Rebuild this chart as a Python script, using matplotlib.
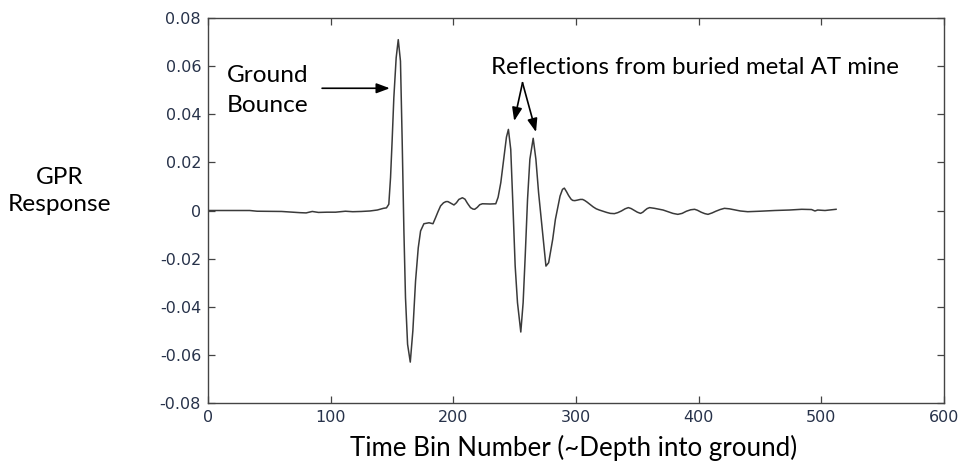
import matplotlib
matplotlib.use("Agg")
import matplotlib.pyplot as plt

# ---- data, split into segments ----
# quiet lead-in before the ground bounce
bins_pre = [0, 20, 34, 40, 60, 75, 80, 85, 90, 97, 104, 112, 118, 125, 132, 138, 143, 145.5]
resp_pre = [0.0, 0.0, 0.0, -0.0003, -0.0004, -0.0009, -0.001, -0.0004, -0.0008, -0.0007,
            -0.0007, -0.0003, -0.0005, -0.0004, -0.0002, 0.0002, 0.0009, 0.0011]
# ground bounce
bins_gb = [147.4, 148.8, 150.1, 151.5, 153.4, 155.1, 156.9, 158.3, 159.7, 161.0, 162.7, 164.9,
           167.0, 169.2, 171.4, 173.3, 176.0, 180.2, 183.4]
resp_gb = [0.0026, 0.0136, 0.0289, 0.0469, 0.0635, 0.0710, 0.0621, 0.0289, -0.0085, -0.0362,
           -0.0556, -0.0630, -0.0500, -0.0293, -0.0155, -0.0085, -0.0055, -0.0051, -0.0055]
# ripples between bounce and mine
bins_mid = [185.5, 187.5, 189.6, 192, 194, 195.6, 198, 200.5, 202.5, 204.5, 207.4, 209.5, 211.5,
            214, 216, 217.4, 219.5, 221.5, 223.7, 230, 234.6]
resp_mid = [-0.0030, -0.0005, 0.0019, 0.0032, 0.0037, 0.0037, 0.0030, 0.0023, 0.0032, 0.0046,
            0.0053, 0.0047, 0.0030, 0.0012, 0.0006, 0.0005, 0.0013, 0.0024, 0.0028, 0.0027,
            0.0028]
# mine reflections
bins_mine = [236.5, 238.7, 241.4, 243.3, 244.9, 246.8, 248.7, 250.4, 252.3, 255.0, 256.9, 258.6,
             260.5, 262.4, 265.1, 267.3, 269.5, 272.2, 275.5, 277.7, 281.0, 283.2, 287]
resp_mine = [0.0055, 0.0116, 0.0227, 0.0305, 0.0337, 0.0254, 0.0005, -0.0230, -0.0383, -0.0505,
             -0.0383, -0.0189, 0.0047, 0.0213, 0.0300, 0.0213, 0.0074, -0.0064, -0.0231, -0.0217,
             -0.0120, -0.0037, 0.0060]
# tail
bins_tail = [289, 290.5, 292.3, 294, 296, 297.3, 299, 301, 303.5, 305.4, 307, 309, 311.5, 314,
             316.5, 319, 322, 325, 328, 331.3, 334, 337, 340, 342.7, 345, 347, 350, 352.6, 354.5,
             356, 358, 360, 364, 368, 371, 375, 379, 383, 386.5, 390, 393.5, 396.7, 399, 402, 405,
             407.6, 411, 414, 417.5, 421, 425, 428, 434, 440, 450, 462, 474, 484, 492, 494.8, 497,
             503, 512]
resp_tail = [0.0088, 0.0093, 0.0078, 0.0062, 0.0047, 0.0042, 0.0041, 0.0043, 0.0046, 0.0046,
             0.0042, 0.0035, 0.0025, 0.0015, 0.0007, 0.0002, -0.0003, -0.0008, -0.0012, -0.0013,
             -0.0009, -0.0002, 0.0007, 0.0012, 0.0008, 0.0002, -0.0007, -0.0012, -0.0007, 0.0,
             0.0008, 0.0012, 0.0009, 0.0005, 0.0002, -0.0005, -0.0012, -0.0016, -0.0012, -0.0003,
             0.0003, 0.0005, 0.0001, -0.0007, -0.0013, -0.0016, -0.0010, -0.0003, 0.0004, 0.0009,
             0.0007, 0.0004, -0.0002, -0.0005, -0.0003, 0.0, 0.0002, 0.0005, 0.0004, -0.0002,
             0.0002, 0.0, 0.0005]

time_bin = bins_pre + bins_gb + bins_mid + bins_mine + bins_tail
response = resp_pre + resp_gb + resp_mid + resp_mine + resp_tail

x_ticks = [0, 100, 200, 300, 400, 500, 600]
y_ticks = [-0.08, -0.06, -0.04, -0.02, 0, 0.02, 0.04, 0.06, 0.08]
y_tick_labels = ["-0.08", "-0.06", "-0.04", "-0.02", "0", "0.02", "0.04", "0.06", "0.08"]
x_tick_labels = ["0", "100", "200", "300", "400", "500", "600"]

x_label = "Time Bin Number (~Depth into ground)"
y_label = "GPR\nResponse"
note_ground = ["Ground", "Bounce"]
note_reflect = "Reflections from buried metal AT mine"

# ---- figure ----
W, H = 964, 466
fig = plt.figure(figsize=(W / 100, H / 100), dpi=100)
ax = fig.add_axes([208 / W, 1 - 403 / H, (944 - 208) / W, (403 - 18) / H])

ax.plot(time_bin, response, color="#3a3a3a", lw=1.1, solid_joinstyle="round")

ax.set_xlim(0, 600)
ax.set_ylim(-0.08, 0.08)
tick_color = "#27324a"
ax.set_xticks(x_ticks)
ax.set_xticklabels(x_tick_labels)
ax.set_yticks(y_ticks)
ax.set_yticklabels(y_tick_labels)
ax.tick_params(direction="in", length=5, width=0.9, color="#444444",
               top=True, right=True, labelsize=11.5, labelcolor=tick_color, pad=5)
for lab in ax.get_xticklabels() + ax.get_yticklabels():
    lab.set_family("DejaVu Sans")
for s in ax.spines.values():
    s.set_color("#444444")
    s.set_linewidth(1.0)

txt_font = "Lato"
fs = 17.6

# Ground Bounce annotation
ax.text(15.5, 0.0534, note_ground[0], fontsize=fs, family=txt_font, ha="left", va="baseline")
ax.text(15.5, 0.0409, note_ground[1], fontsize=fs, family=txt_font, ha="left", va="baseline")
ax.annotate("", xy=(148.2, 0.0508), xytext=(93, 0.0508),
            arrowprops=dict(arrowstyle="-|>,head_length=0.8,head_width=0.3", color="black", lw=1.2,
                            shrinkA=0, shrinkB=0))

# Reflections annotation
ax.text(231, 0.0569, note_reflect, fontsize=17.3, family=txt_font, ha="left", va="baseline")
for tx, ty in [(249.6, 0.0372), (267.4, 0.0326)]:
    ax.annotate("", xy=(tx, ty), xytext=(256.4, 0.0531),
                arrowprops=dict(arrowstyle="-|>,head_length=0.8,head_width=0.3", color="black",
                                lw=1.2, shrinkA=0, shrinkB=0))

# axis labels as figure text
fig.text(574 / W, 1 - 448 / H, x_label, fontsize=18.6, family=txt_font, ha="center", va="center")
fig.text(60 / W, 1 - 191 / H, y_label, fontsize=fs, family=txt_font, ha="center", va="center",
         linespacing=1.3)

fig.savefig("out.png", dpi=100)
